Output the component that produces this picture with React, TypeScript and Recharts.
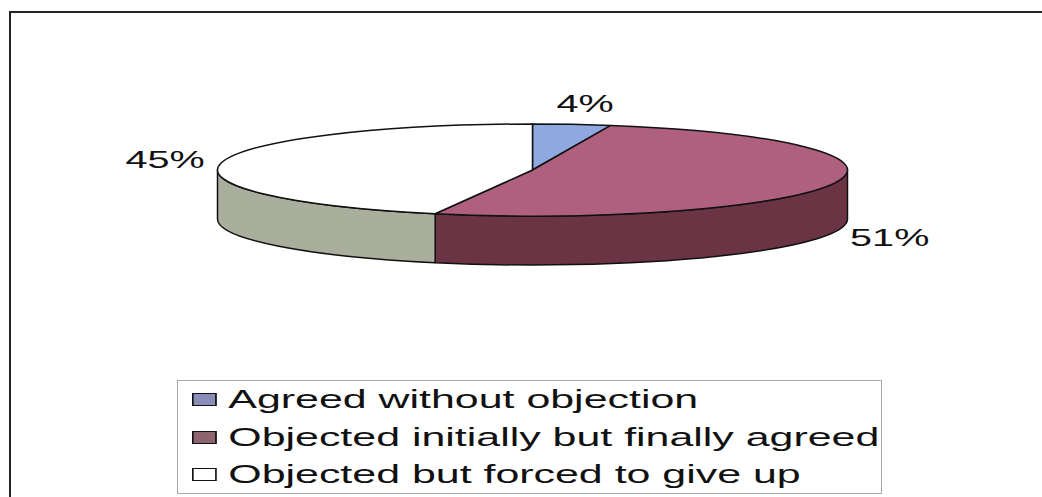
import { PieChart, Pie, Cell, Legend } from 'recharts';

const categories = [
  'Agreed without objection',
  'Objected initially but finally agreed',
  'Objected but forced to give up',
];
const shares = [4, 51, 45];

const topColors = ['#8FA8E0', '#B0607F', '#FFFFFF'];
const sideColors = ['#5E6FA0', '#6A3444', '#A9AE9D'];
const swatchColors = ['#8A8DB8', '#8D6470', '#FFFFFF'];

const data = categories.map((name, i) => ({ name, value: shares[i] }));

// flattened 3D look: the pie is drawn as an ellipse with a side wall
const TILT = 0.146;
const DEPTH = 49;
const STRETCH = 1.65;
const RAD = Math.PI / 180;

function pt(cx: number, cy: number, rx: number, ry: number, a: number, dy = 0) {
  return [cx + rx * Math.cos(a * RAD), cy - ry * Math.sin(a * RAD) + dy];
}

function Slice3D(props: any) {
  const { cx, cy, outerRadius, startAngle, endAngle, fill, index } = props;
  const rx = outerRadius;
  const ry = outerRadius * TILT;
  const hi = Math.max(startAngle, endAngle);
  const lo = Math.min(startAngle, endAngle);

  const [sx, sy] = pt(cx, cy, rx, ry, hi);
  const [ex, ey] = pt(cx, cy, rx, ry, lo);
  const large = hi - lo > 180 ? 1 : 0;
  const top = `M${cx},${cy} L${sx},${sy} A${rx},${ry} 0 ${large} 1 ${ex},${ey} Z`;

  // parts of the rim facing the viewer get a wall
  const walls: string[] = [];
  for (const [f0, f1] of [[-540, -360], [-180, 0], [180, 360]]) {
    const a0 = Math.max(lo, f0);
    const a1 = Math.min(hi, f1);
    if (a1 - a0 <= 0.01) continue;
    const [p1x, p1y] = pt(cx, cy, rx, ry, a1);
    const [p0x, p0y] = pt(cx, cy, rx, ry, a0);
    const [q0x, q0y] = pt(cx, cy, rx, ry, a0, DEPTH);
    const [q1x, q1y] = pt(cx, cy, rx, ry, a1, DEPTH);
    walls.push(
      `M${p1x},${p1y} A${rx},${ry} 0 0 1 ${p0x},${p0y} L${q0x},${q0y} A${rx},${ry} 0 0 0 ${q1x},${q1y} Z`
    );
  }

  return (
    <g>
      {walls.map((d, i) => (
        <path key={i} d={d} fill={sideColors[index]} stroke="#111" strokeWidth={1.5} strokeLinejoin="round" />
      ))}
      <path d={top} fill={fill} stroke="#111" strokeWidth={1.5} strokeLinejoin="round" />
    </g>
  );
}

function renderLabel(props: any) {
  const { cx, cy, outerRadius, midAngle, value } = props;
  const s = Math.sin(midAngle * RAD);
  const c = Math.cos(midAngle * RAD);
  const x = cx + (outerRadius + 57) * c + (s > 0.9 ? 6 : 0);
  const y = cy - (outerRadius * TILT + 21) * s + (s < 0 ? DEPTH : 0);
  return (
    <text
      transform={`translate(${x},${y}) scale(${STRETCH},1)`}
      textAnchor="middle"
      dominantBaseline="central"
      fontSize={24}
      fontFamily="'Liberation Sans', Arial, sans-serif"
      fill="#111"
    >
      {`${value}%`}
    </text>
  );
}

function LegendBox({ payload }: any) {
  const items = [...(payload || [])].sort(
    (a: any, b: any) => categories.indexOf(a.value) - categories.indexOf(b.value)
  );
  return (
    <div
      style={{
        width: '100%',
        height: '100%',
        boxSizing: 'border-box',
        border: '1px solid #a8a8a8',
        background: '#fff',
        fontFamily: "'Liberation Sans', Arial, sans-serif",
      }}
    >
      {items.map((entry: any) => {
        const i = categories.indexOf(entry.value);
        return (
          <div
            key={entry.value}
            style={{
              display: 'flex',
              alignItems: 'center',
              height: 37.5,
              transform: `scaleX(${STRETCH})`,
              transformOrigin: 'left center',
              marginLeft: 14,
            }}
          >
            <span
              style={{
                display: 'inline-block',
                width: 15,
                height: 13,
                boxSizing: 'border-box',
                border: '1.6px solid #111',
                background: swatchColors[i],
                marginRight: 7,
              }}
            />
            <span style={{ fontSize: 26, color: '#111', whiteSpace: 'nowrap' }}>{entry.value}</span>
          </div>
        );
      })}
    </div>
  );
}

export default function App() {
  return (
    <div style={{ position: 'absolute', left: 0, top: 0, width: 1042, height: 497, background: '#fff', overflow: 'hidden' }}>
      <div
        style={{
          position: 'absolute',
          left: 9,
          top: 11,
          width: 1060,
          height: 520,
          border: '2px solid #222',
          boxSizing: 'border-box',
        }}
      />
      <div style={{ position: 'absolute', left: 0, top: 0 }}>
        <PieChart width={1042} height={497} margin={{ top: 0, right: 0, bottom: 0, left: 0 }}>
          <Pie
            data={data}
            dataKey="value"
            nameKey="name"
            cx={532.5}
            cy={170}
            outerRadius={315}
            startAngle={90}
            endAngle={-270}
            stroke="#111"
            isAnimationActive={false}
            label={renderLabel}
            labelLine={false}
            inactiveShape={Slice3D}
            activeShape={Slice3D}
            shape={Slice3D}
          >
            {data.map((d, i) => (
              <Cell key={d.name} fill={topColors[i]} />
            ))}
          </Pie>
          <Legend
            content={<LegendBox />}
            wrapperStyle={{ left: 177, top: 380, width: 705, height: 114 }}
          />
        </PieChart>
      </div>
    </div>
  );
}
